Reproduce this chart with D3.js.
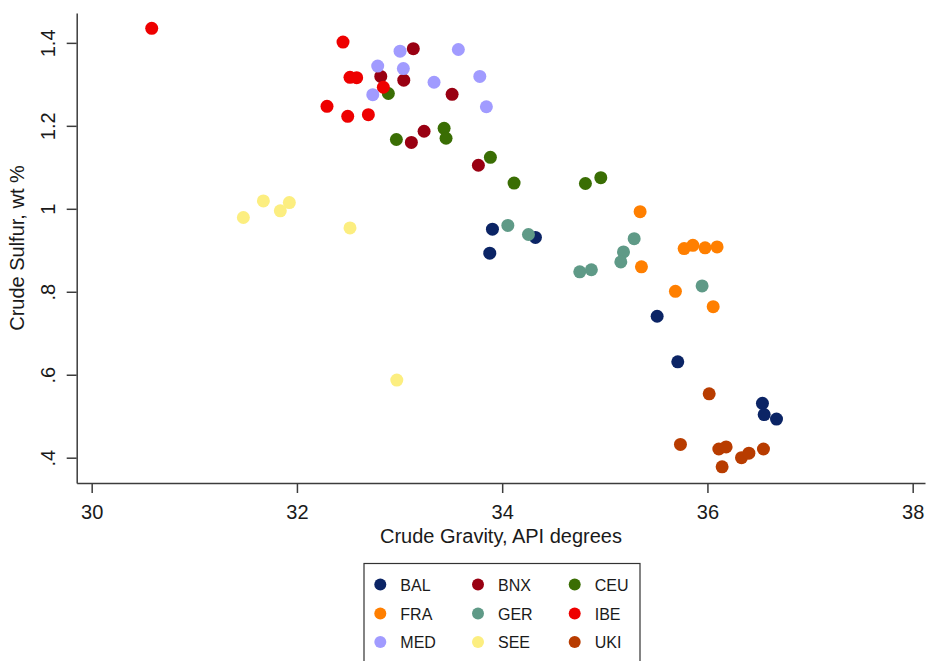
<!DOCTYPE html>
<html>
<head>
<meta charset="utf-8">
<script src="https://cdn.jsdelivr.net/npm/d3@7"></script>
<style>
  body { margin: 0; background: #fff; }
  text { font-family: "Liberation Sans", Arial, sans-serif; fill: #1a1a1a; }
</style>
</head>
<body>
<div id="visualization"></div>
<script>
// Data: [gravity (API), sulfur (wt %)]
const BAL = [[33.905, 0.951], [34.324, 0.931], [33.879, 0.893], [35.510, 0.741],
             [35.711, 0.631], [36.536, 0.531], [36.553, 0.504], [36.673, 0.493]];
const BNX = [[33.134, 1.386], [32.817, 1.319], [33.041, 1.310], [33.512, 1.276],
             [33.239, 1.187], [33.115, 1.160], [33.768, 1.105]];
const CEU = [[32.891, 1.278], [33.434, 1.194], [33.453, 1.170], [32.969, 1.167],
             [33.885, 1.124], [34.116, 1.062], [34.811, 1.061], [34.961, 1.075]];
const FRA = [[35.344, 0.993], [35.357, 0.860], [35.773, 0.904], [35.858, 0.912],
             [35.977, 0.906], [36.094, 0.908], [35.688, 0.801], [36.056, 0.764]];
const GER = [[34.055, 0.960], [34.256, 0.938], [35.286, 0.928], [35.182, 0.896],
             [35.156, 0.872], [34.756, 0.848], [34.869, 0.853], [35.948, 0.814]];
const IBE = [[30.585, 1.435], [32.449, 1.402], [32.517, 1.317], [32.582, 1.316],
             [32.842, 1.293], [32.293, 1.247], [32.495, 1.223], [32.696, 1.227]];
const MED = [[33.005, 1.380], [33.573, 1.384], [32.787, 1.344], [33.037, 1.338],
             [33.336, 1.305], [32.739, 1.275], [33.782, 1.319], [33.846, 1.246]];
const SEE = [[31.478, 0.979], [31.673, 1.019], [31.838, 0.995], [31.926, 1.015],
             [32.517, 0.954], [32.973, 0.587]];
const UKI = [[36.017, 0.554], [35.737, 0.432], [36.111, 0.421], [36.182, 0.426],
             [36.332, 0.400], [36.404, 0.411], [36.546, 0.421], [36.143, 0.378]];

const regions = ["BAL", "BNX", "CEU", "FRA", "GER", "IBE", "MED", "SEE", "UKI"];
const regionData = [BAL, BNX, CEU, FRA, GER, IBE, MED, SEE, UKI];
const regionColors = ["#0b2465", "#990012", "#3a6e04", "#ff7f00", "#5f9a87",
                      "#ee0000", "#a19bff", "#fcee80", "#b83c00"];

const xTicks = [30, 32, 34, 36, 38];
const yTicks = [0.4, 0.6, 0.8, 1.0, 1.2, 1.4];
const yTickLabels = [".4", ".6", ".8", "1", "1.2", "1.4"];

const width = 927, height = 661;

const svg = d3.select("#visualization")
    .append("svg")
    .attr("width", width)
    .attr("height", height);

// Scales (pixel range fitted to the reference layout)
const x = d3.scaleLinear().domain([29.854, 38.12]).range([76.7, 925]);
const y = d3.scaleLinear().domain([0.339, 1.472]).range([483, 13]);

const axisColor = "#3c3c3c";

// X axis
const xAxis = svg.append("g")
    .attr("transform", "translate(0,483)")
    .call(d3.axisBottom(x).tickValues(xTicks).tickSize(10).tickSizeOuter(0).tickPadding(12));
xAxis.select(".domain").attr("stroke", axisColor).attr("stroke-width", 1.5);
xAxis.selectAll(".tick line").attr("stroke", axisColor).attr("stroke-width", 1.5);
xAxis.selectAll(".tick text")
    .attr("font-size", 20)
    .attr("font-family", "Liberation Sans, Arial, sans-serif")
    .attr("fill", "#1a1a1a");

// Y axis
const yAxis = svg.append("g")
    .attr("transform", "translate(76.7,0)")
    .call(d3.axisLeft(y).tickValues(yTicks).tickSize(10).tickSizeOuter(0)
        .tickFormat((d, i) => yTickLabels[i]));
yAxis.select(".domain").attr("stroke", axisColor).attr("stroke-width", 1.5);
yAxis.selectAll(".tick line").attr("stroke", axisColor).attr("stroke-width", 1.5);
yAxis.selectAll(".tick text")
    .attr("x", 0)
    .attr("y", -21.5)
    .attr("dy", 0)
    .attr("text-anchor", "middle")
    .attr("transform", "rotate(-90)")
    .attr("font-size", 20)
    .attr("font-family", "Liberation Sans, Arial, sans-serif")
    .attr("fill", "#1a1a1a");

// Axis titles
svg.append("text")
    .attr("x", 501)
    .attr("y", 543)
    .attr("text-anchor", "middle")
    .attr("font-size", 20)
    .text("Crude Gravity, API degrees");

svg.append("text")
    .attr("transform", "translate(24,248) rotate(-90)")
    .attr("text-anchor", "middle")
    .attr("font-size", 20)
    .text("Crude Sulfur, wt %");

// Points, one group per region
regionData.forEach((pts, i) => {
    svg.append("g")
        .selectAll("circle")
        .data(pts)
        .enter()
        .append("circle")
        .attr("cx", d => x(d[0]))
        .attr("cy", d => y(d[1]))
        .attr("r", 6.5)
        .attr("fill", regionColors[i]);
});

// Legend
const legend = svg.append("g");
legend.append("rect")
    .attr("x", 364)
    .attr("y", 563.5)
    .attr("width", 276)
    .attr("height", 120)
    .attr("fill", "#fff")
    .attr("stroke", "#333")
    .attr("stroke-width", 1.2);

const colX = [380.3, 478, 574.7];
const rowY = [584.5, 613.5, 642];
regions.forEach((name, i) => {
    const cx = colX[i % 3], cy = rowY[Math.floor(i / 3)];
    legend.append("circle")
        .attr("cx", cx)
        .attr("cy", cy)
        .attr("r", 6)
        .attr("fill", regionColors[i]);
    legend.append("text")
        .attr("x", cx + 20)
        .attr("y", cy + 6)
        .attr("font-size", 16)
        .text(name);
});
</script>
</body>
</html>
